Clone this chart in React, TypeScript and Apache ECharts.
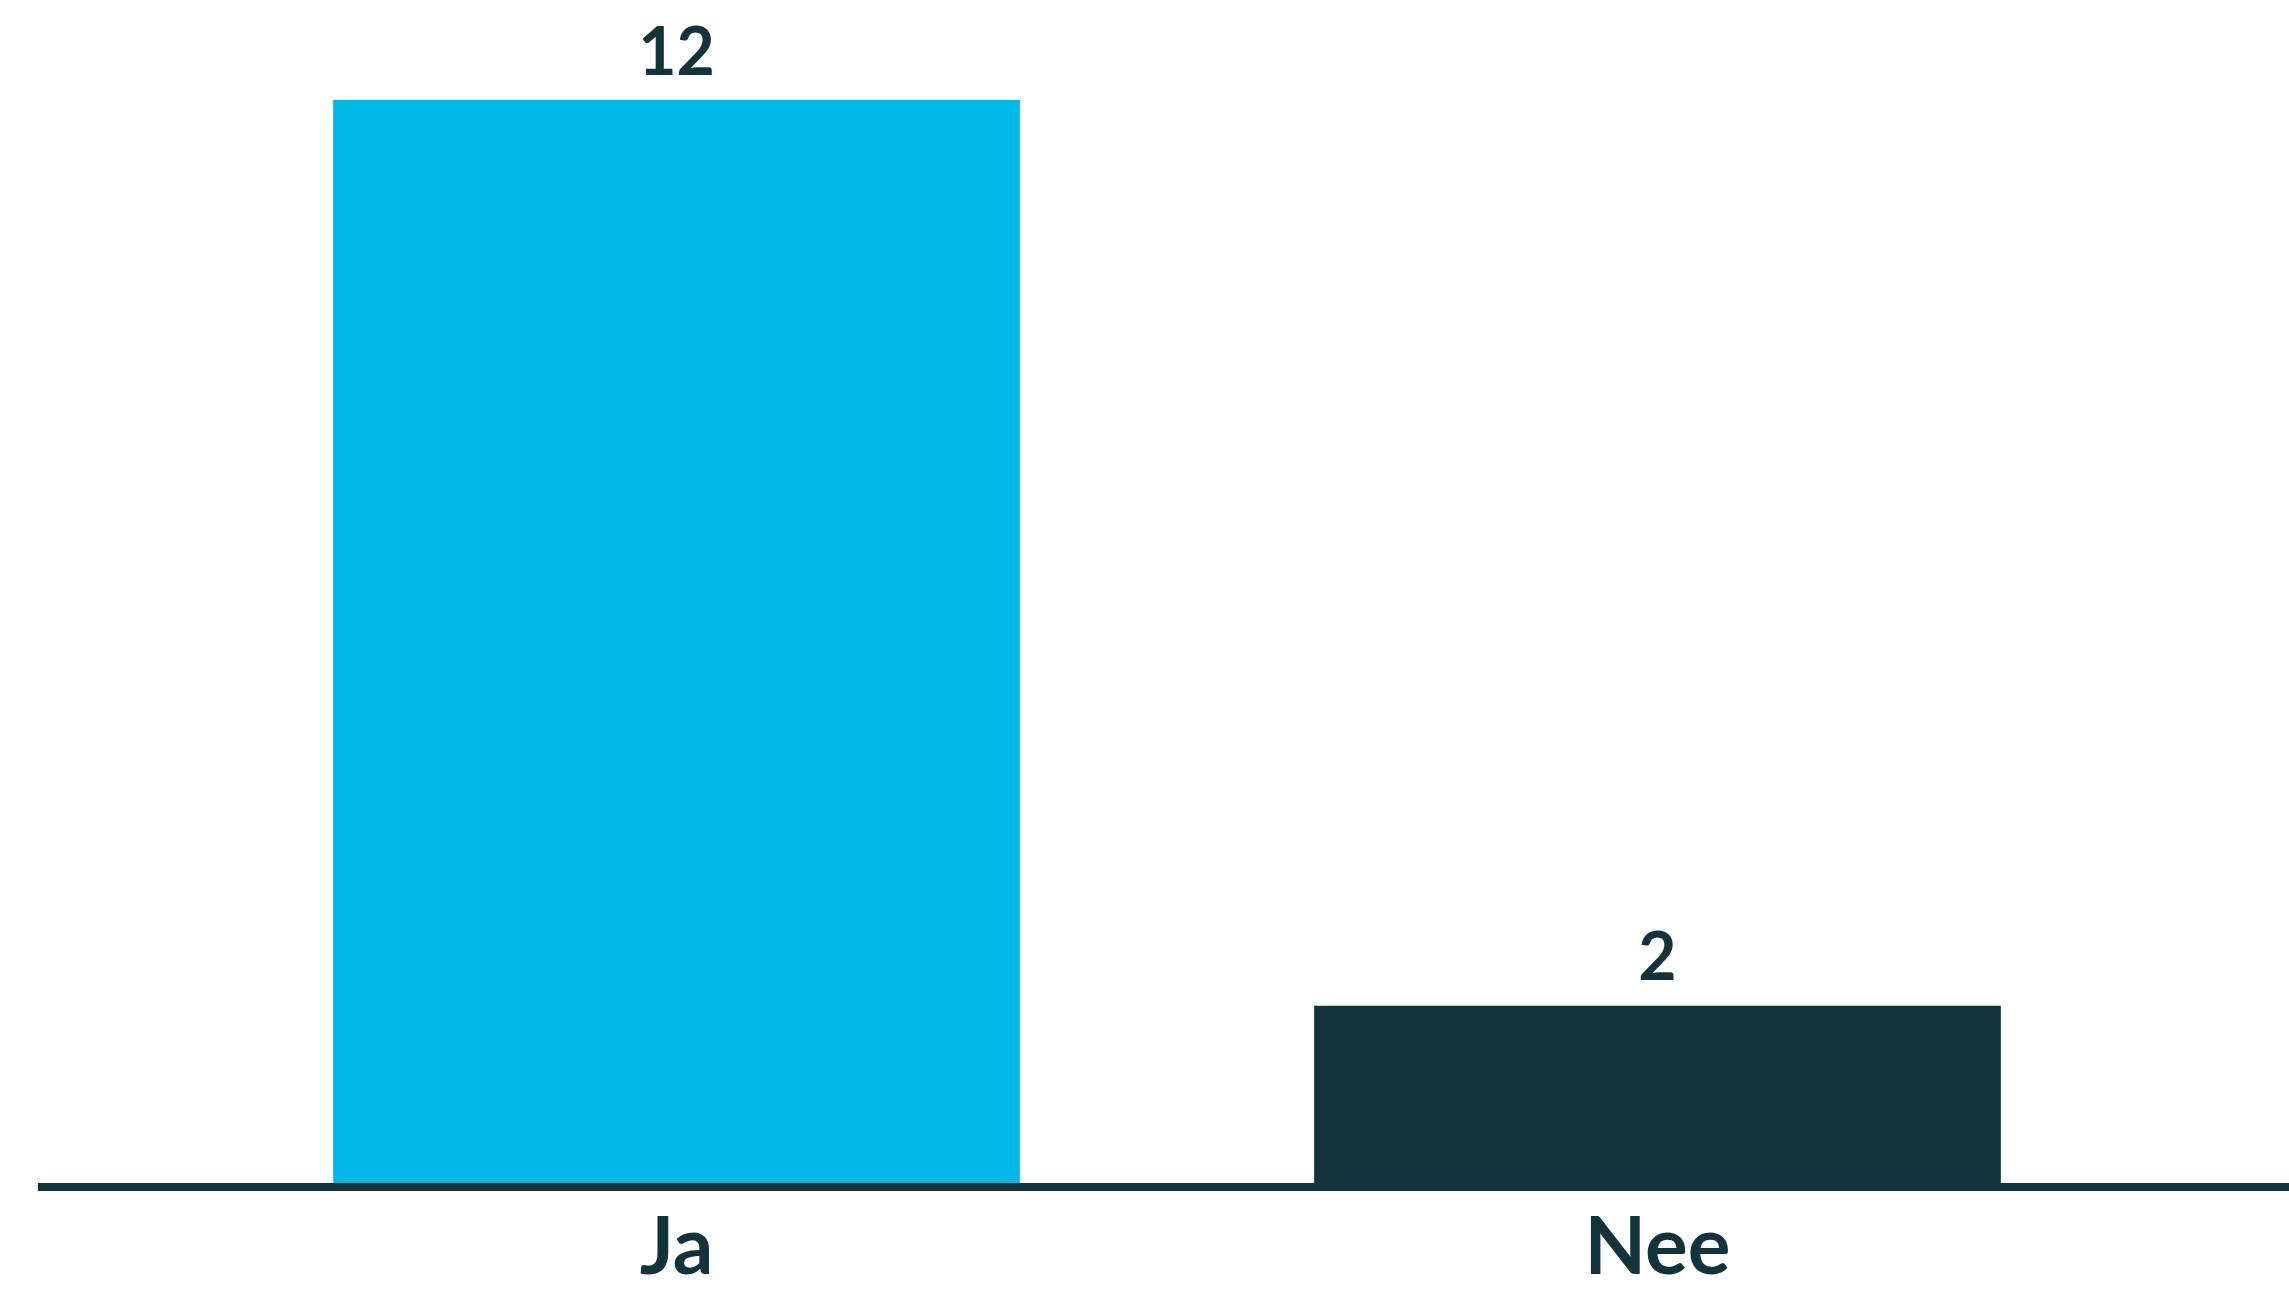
import React, { useEffect, useRef } from "react";
import * as echarts from "echarts";

const categories = ["Ja", "Nee"];
const values = [12, 2];
const barColors = ["#00B8E8", "#12323C"];

export default function App() {
  const ref = useRef<HTMLDivElement>(null);
  useEffect(() => {
    if (!ref.current) return;
    const chart = echarts.init(ref.current, undefined, { renderer: "svg" });
    const dark = "#12323C";
    chart.setOption({
      animation: false,
      backgroundColor: "#ffffff",
      grid: { left: 186, right: 141, top: 100, bottom: 105 },
      xAxis: {
        type: "category",
        data: categories,
        axisLine: { show: false },
        axisTick: { show: false },
        axisLabel: {
          color: dark,
          fontFamily: "Lato",
          fontWeight: "bold",
          fontSize: 80,
          lineHeight: 70,
          margin: 21,
        },
      },
      yAxis: {
        type: "value",
        min: 0,
        max: Math.max(...values),
        show: false,
        splitLine: { show: false },
      },
      series: [
        {
          type: "bar",
          barWidth: "70%",
          data: values.map((v, i) => ({ value: v, itemStyle: { color: barColors[i] } })),
          label: {
            show: true,
            position: "top",
            distance: 18,
            color: dark,
            fontFamily: "Lato",
            fontWeight: "bold",
            fontSize: 66,
          },
        },
      ],
      graphic: [
        {
          type: "line",
          z: 100,
          shape: { x1: 38, y1: 1187, x2: 2289, y2: 1187 },
          style: { stroke: dark, lineWidth: 8 },
        },
      ],
    });
    return () => chart.dispose();
  }, []);
  return (
    <div
      ref={ref}
      style={{ position: "fixed", left: 0, top: 0, width: 2289, height: 1292 }}
    />
  );
}
